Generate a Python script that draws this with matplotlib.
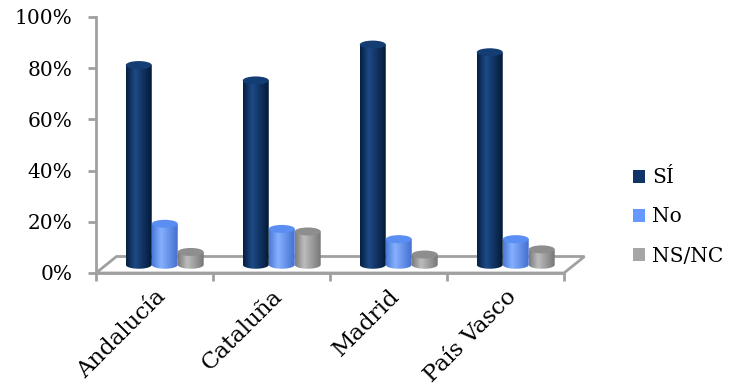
import matplotlib
matplotlib.use("Agg")
import matplotlib.pyplot as plt
import numpy as np
from matplotlib.patches import Polygon, Ellipse, Patch
import matplotlib.colors as mcolors

regions = ["Andalucía", "Cataluña", "Madrid", "País Vasco"]
series = ["SÍ", "No", "NS/NC"]
si = [78, 72, 86, 83]
no = [16, 14, 10, 10]
nsnc = [5, 13, 4, 6]
yticks = [0, 20, 40, 60, 80, 100]
ytick_labels = ["0%", "20%", "40%", "60%", "80%", "100%"]

# body gradient (edge, highlight, edge) and cap colour per series
body_cols = [("#061f42", "#1d4a86", "#041a38"),
             ("#4a7ad8", "#86b0ff", "#4470d0"),
             ("#7c7c7c", "#bdbdbd", "#777777")]
cap_cols = ["#143d74", "#5a8ef2", "#8e8e8e"]
legend_cols = ["#0f3466", "#6699ff", "#a6a6a6"]

plt.rcParams['font.family'] = ['DejaVu Serif']

W, H = 729, 386
fig = plt.figure(figsize=(W / 100, H / 100), dpi=100)
x_left, x_right, y_bot, y_top = 96, 564, 273, 17
ax = fig.add_axes([x_left / W, 1 - y_bot / H, (x_right - x_left) / W, (y_bot - y_top) / H])

px_x = (x_right - x_left) / 4.0      # pixels per category
px_y = (y_bot - y_top) / 100.0       # pixels per percent
DX = 20.5 / px_x                     # depth offset of the floor
DY = 16.5 / px_y
grey = "#a0a0a0"

# floor
floor = Polygon([(0, 0), (4, 0), (4 + DX, DY), (DX, DY)], closed=True,
                facecolor="white", edgecolor=grey, lw=2, zorder=1, clip_on=False)
ax.add_patch(floor)

bw = 0.222
eh = 8.0 / px_y   # cap ellipse height


def cylinder(x0, base, top, k):
    t = np.linspace(np.pi, 2 * np.pi, 40)
    xs = x0 + bw / 2 + bw / 2 * np.cos(t)
    ys = base + eh / 2 * np.sin(t)
    verts = [(x0, top)] + list(zip(xs, ys)) + [(x0 + bw, top)]
    outline = Polygon(verts, closed=True, facecolor="none", edgecolor="none")
    ax.add_patch(outline)
    cmap = mcolors.LinearSegmentedColormap.from_list(
        "c%d" % k, [(0, body_cols[k][0]), (0.35, body_cols[k][1]), (1, body_cols[k][2])])
    grad = np.linspace(0, 1, 64).reshape(1, -1)
    im = ax.imshow(grad, cmap=cmap, extent=[x0, x0 + bw, base - eh / 2, top],
                   aspect="auto", origin="lower", zorder=3, interpolation="bicubic")
    im.set_clip_path(outline)
    cap = Ellipse((x0 + bw / 2, top), bw, eh, facecolor=cap_cols[k],
                  edgecolor="none", zorder=4)
    ax.add_patch(cap)


data = [si, no, nsnc]
for i in range(len(regions)):
    centre = i + 0.5 + DX / 2
    for k, vals in enumerate(data):
        x0 = centre - 1.5 * bw + k * bw
        cylinder(x0, DY / 2, vals[i] + DY / 2, k)

ax.set_xlim(0, 4)
ax.set_ylim(0, 100)

for s in ["top", "right"]:
    ax.spines[s].set_visible(False)
for s in ["left", "bottom"]:
    ax.spines[s].set_color(grey)
    ax.spines[s].set_linewidth(2)
    ax.spines[s].set_zorder(2)

ax.set_yticks(yticks)
ax.set_yticklabels(ytick_labels, fontsize=14.5)
ax.tick_params(axis="y", direction="out", length=6, width=2, color=grey, pad=11)
ax.set_xticks([0, 1, 2, 3, 4])
ax.set_xticklabels([])
ax.tick_params(axis="x", which="major", direction="out", length=6, width=2, color=grey)
ax.set_xticks([0.5, 1.5, 2.5, 3.5], minor=True)
ax.set_xticklabels(regions, minor=True, fontsize=16.5, rotation=45,
                   ha="right", va="top", rotation_mode="anchor")
ax.tick_params(axis="x", which="minor", length=0, pad=9)
ax.patch.set_alpha(0)

handles = [Patch(facecolor=c, edgecolor="none") for c in legend_cols]
fig.legend(handles, series, loc="center left", bbox_to_anchor=(615 / W, 1 - 217 / H),
           frameon=False, fontsize=14.5, handlelength=0.6, handleheight=0.6,
           handletextpad=0.35, labelspacing=1.0)

fig.savefig("out.png", dpi=100)
